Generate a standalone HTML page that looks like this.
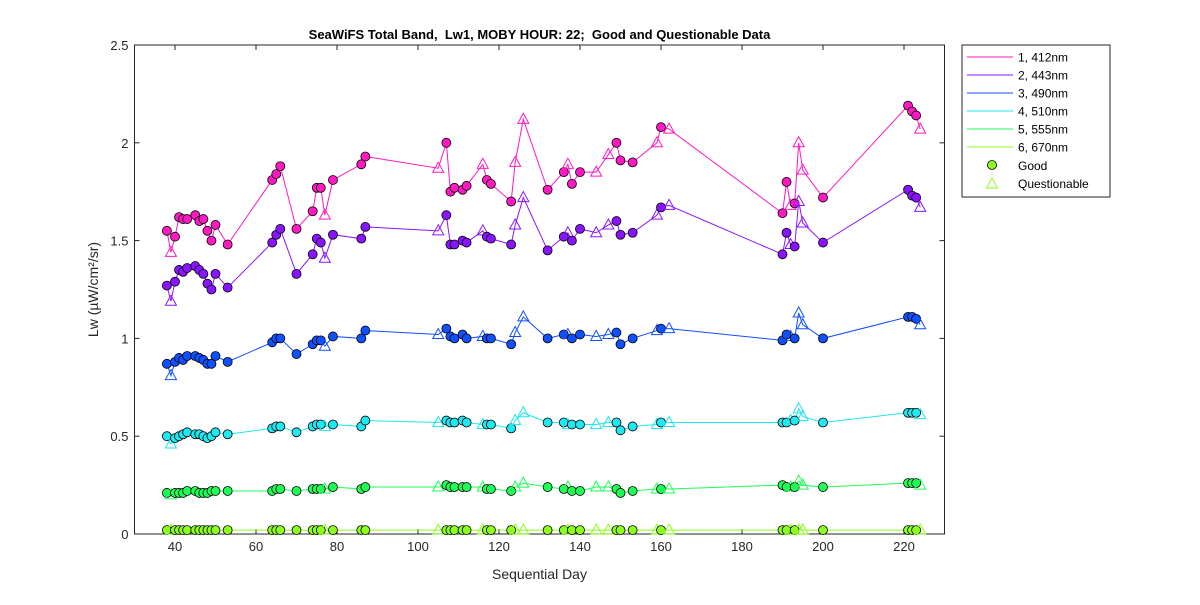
<!DOCTYPE html>
<html><head><meta charset="utf-8"><style>
body{margin:0;background:#fff;font-family:"Liberation Sans",sans-serif}
text{white-space:pre}
</style></head><body>
<svg id="chart" width="1200" height="600" xmlns="http://www.w3.org/2000/svg" font-family="Liberation Sans, sans-serif"></svg>
<script>
const days=[38,39,40,41,42,43,45,46,47,48,49,50,53,64,65,66,70,74,75,76,77,79,86,87,105,107,108,109,111,112,116,117,118,123,124,126,132,136,137,138,140,144,147,149,150,153,159,160,162,190,191,192,193,194,195,200,221,222,223,224];
const questionableDays=[39,77,105,116,124,126,137,144,147,159,162,192,194,195,224];
const band412=[1.55,1.44,1.52,1.62,1.61,1.61,1.63,1.60,1.61,1.55,1.50,1.58,1.48,1.81,1.84,1.88,1.56,1.65,1.77,1.77,1.63,1.81,1.89,1.93,1.87,2.00,1.75,1.77,1.76,1.78,1.89,1.81,1.79,1.70,1.90,2.12,1.76,1.85,1.89,1.79,1.85,1.85,1.94,2.00,1.91,1.90,2.00,2.08,2.07,1.64,1.80,1.68,1.69,2.00,1.86,1.72,2.19,2.16,2.14,2.07];
const band443=[1.27,1.19,1.29,1.35,1.34,1.36,1.37,1.35,1.33,1.28,1.25,1.33,1.26,1.49,1.53,1.56,1.33,1.43,1.51,1.49,1.41,1.53,1.51,1.57,1.55,1.63,1.48,1.48,1.50,1.49,1.55,1.52,1.51,1.48,1.58,1.72,1.45,1.52,1.54,1.50,1.56,1.54,1.58,1.60,1.53,1.54,1.63,1.67,1.68,1.43,1.54,1.48,1.47,1.70,1.59,1.49,1.76,1.73,1.72,1.67];
const band490=[0.87,0.81,0.88,0.90,0.89,0.91,0.91,0.90,0.89,0.87,0.87,0.91,0.88,0.98,1.00,1.00,0.92,0.97,0.99,0.99,0.96,1.01,1.00,1.04,1.02,1.05,1.01,1.00,1.02,1.00,1.01,1.00,1.00,0.97,1.03,1.11,1.00,1.02,1.02,1.00,1.02,1.01,1.02,1.03,0.97,1.00,1.04,1.05,1.05,0.99,1.02,1.01,1.00,1.13,1.07,1.00,1.11,1.11,1.10,1.07];
const band510=[0.50,0.46,0.49,0.50,0.51,0.52,0.51,0.51,0.50,0.49,0.50,0.52,0.51,0.54,0.55,0.55,0.52,0.55,0.56,0.56,0.55,0.56,0.55,0.58,0.57,0.58,0.57,0.57,0.58,0.57,0.56,0.56,0.56,0.54,0.58,0.62,0.57,0.57,0.56,0.56,0.56,0.56,0.57,0.57,0.53,0.55,0.56,0.57,0.57,0.57,0.57,0.58,0.58,0.64,0.60,0.57,0.62,0.62,0.62,0.61];
const band555=[0.21,0.20,0.21,0.21,0.21,0.22,0.22,0.21,0.21,0.21,0.22,0.22,0.22,0.22,0.23,0.23,0.22,0.23,0.23,0.23,0.23,0.24,0.23,0.24,0.24,0.25,0.24,0.24,0.24,0.24,0.24,0.23,0.23,0.22,0.24,0.26,0.24,0.23,0.24,0.22,0.22,0.24,0.24,0.23,0.21,0.22,0.23,0.23,0.23,0.25,0.24,0.24,0.24,0.27,0.25,0.24,0.26,0.26,0.26,0.25];
const band670=[0.02,0.02,0.02,0.02,0.02,0.02,0.02,0.02,0.02,0.02,0.02,0.02,0.02,0.02,0.02,0.02,0.02,0.02,0.02,0.02,0.02,0.02,0.02,0.02,0.02,0.02,0.02,0.02,0.02,0.02,0.02,0.02,0.02,0.02,0.02,0.02,0.02,0.02,0.02,0.02,0.02,0.02,0.02,0.02,0.02,0.02,0.02,0.02,0.02,0.02,0.02,0.02,0.02,0.02,0.02,0.02,0.02,0.02,0.02,0.02];
const seriesNames=["1, 412nm","2, 443nm","3, 490nm","4, 510nm","5, 555nm","6, 670nm"];
const xTicks=[40,60,80,100,120,140,160,180,200,220];
const yTicks=[0,0.5,1,1.5,2,2.5];
const allSeries=[band412,band443,band490,band510,band555,band670];
const colors=["#ff19c3","#8a14ff","#0f50ff","#1ee8f0","#1eff55","#8cff1e"];

const svg=document.getElementById('chart');const NS='http://www.w3.org/2000/svg';
const L=134.5,R=944.5,T=45,B=534;
const xs=d=>L+(d-30)/200*(R-L);
const ys=v=>B-v/2.5*(B-T);
function mk(t,a,p){const e=document.createElementNS(NS,t);for(const k in a)e.setAttribute(k,a[k]);(p||svg).appendChild(e);return e;}
const bg=mk('rect',{x:L,y:T,width:R-L,height:B-T,fill:'#fff',stroke:'#262626','stroke-width':1});

const xa=mk('g',{});
xTicks.forEach(t=>{const x=xs(t);mk('line',{x1:x,x2:x,y1:B,y2:B-5,stroke:'#262626'},xa);mk('line',{x1:x,x2:x,y1:T,y2:T+5,stroke:'#262626'},xa);
const tx=mk('text',{x:x,y:B+17,'text-anchor':'middle','font-size':13,fill:'#262626'},xa);tx.textContent=t;});
const ya=mk('g',{});
yTicks.forEach(t=>{const y=ys(t);mk('line',{x1:L,x2:L+5,y1:y,y2:y,stroke:'#262626'},ya);mk('line',{x1:R,x2:R-5,y1:y,y2:y,stroke:'#262626'},ya);
const tx=mk('text',{x:L-6,y:y+5,'text-anchor':'end','font-size':13,fill:'#262626'},ya);tx.textContent=t;});
const xt=mk('text',{x:(L+R)/2,y:579,'text-anchor':'middle','font-size':14,fill:'#262626'});xt.textContent='Sequential Day';

const yt=mk('text',{x:0,y:0,'text-anchor':'middle','font-size':14,fill:'#262626',transform:`translate(98,${(T+B)/2}) rotate(-90)`});yt.textContent='Lw (µW/cm²/sr)';

const ti=mk('text',{x:(L+R)/2,y:39,'text-anchor':'middle','font-size':13,'font-weight':'bold',fill:'#000'});ti.textContent='SeaWiFS Total Band,  Lw1, MOBY HOUR: 22;  Good and Questionable Data';

allSeries.forEach((vals,si)=>{const g=mk('g',{});
mk('polyline',{points:days.map((d,i)=>xs(d)+','+ys(vals[i])).join(' '),fill:'none',stroke:colors[si],'stroke-width':1},g);
days.forEach((d,i)=>{const x=xs(d),y=ys(vals[i]);let m;
if(questionableDays.includes(d)){m=mk('polygon',{points:`${x},${y-6} ${x-5.5},${y+4} ${x+5.5},${y+4}`,fill:'none',stroke:colors[si],'stroke-width':1},g);}
else{m=mk('circle',{cx:x,cy:y,r:4.5,fill:colors[si],stroke:'#000','stroke-width':0.8},g);}
});});
const lg=mk('g',{});
mk('rect',{x:962,y:45,width:148,height:152,fill:'#fff',stroke:'#262626'},lg);
seriesNames.forEach((n,i)=>{const y=57+i*18;mk('line',{x1:967,x2:1013,y1:y,y2:y,stroke:colors[i]},lg);
const t=mk('text',{x:1018,y:y+4.5,'font-size':12,fill:'#000'},lg);t.textContent=n;});
mk('circle',{cx:992,cy:165,r:4.5,fill:'#8cff1e',stroke:'#000','stroke-width':0.8},lg);
const g1=mk('text',{x:1018,y:170,'font-size':12},lg);g1.textContent='Good';
mk('polygon',{points:'992,178 986.5,188 997.5,188',fill:'none',stroke:'#8cff1e'},lg);
const g2=mk('text',{x:1018,y:188,'font-size':12},lg);g2.textContent='Questionable';
</script>
</body></html>
